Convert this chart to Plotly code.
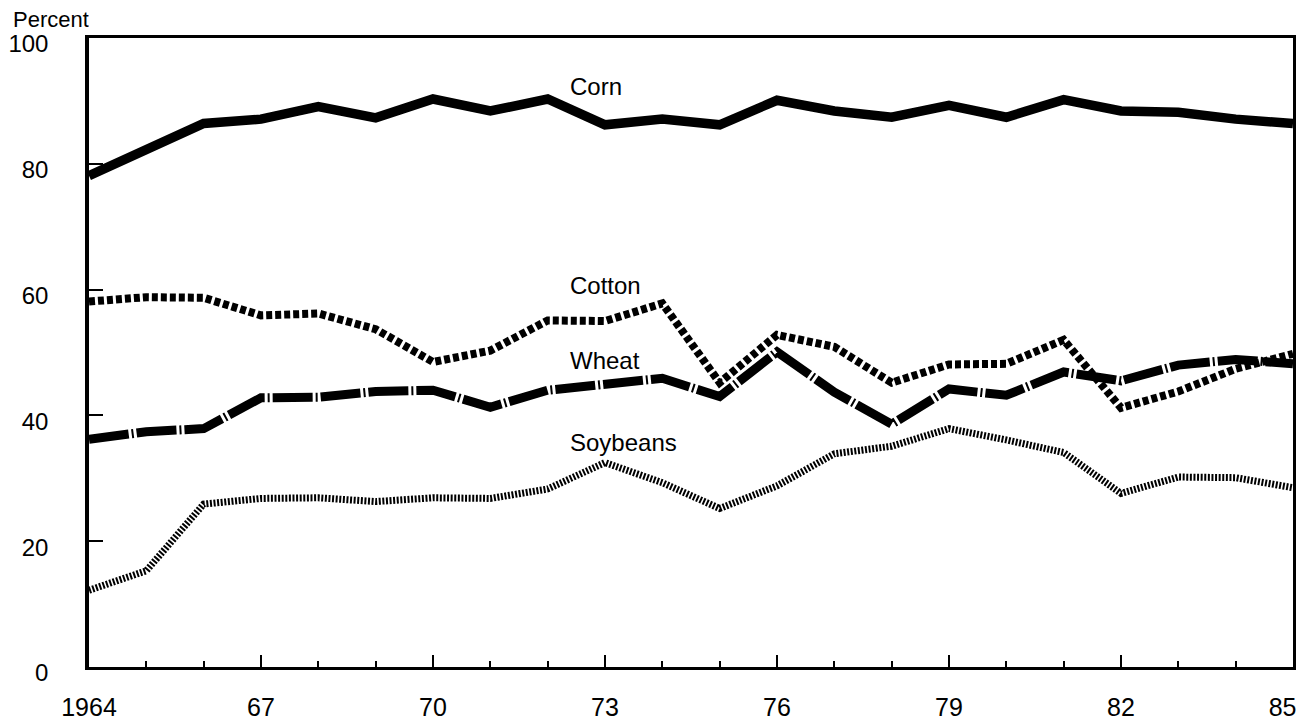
import plotly.graph_objects as go

# Share of acreage, percent
years = list(range(1964, 1986))
corn = [78.1, 82.3, 86.4, 87.1, 89.1, 87.3, 90.3, 88.4, 90.3, 86.2, 87.1,
        86.2, 90.1, 88.4, 87.4, 89.3, 87.4, 90.2, 88.4, 88.2, 87.1, 86.4]
cotton = [58.1, 58.8, 58.7, 55.9, 56.2, 53.7, 48.5, 50.3, 55.1, 55.0, 57.8,
          45.2, 52.8, 50.9, 45.2, 48.1, 48.2, 52.0, 41.2, 43.8, 47.4, 49.8]
wheat = [36.2, 37.4, 37.9, 42.8, 42.9, 43.8, 44.0, 41.3, 44.0, 45.1, 45.9,
         43.0, 50.1, 43.7, 38.6, 44.2, 43.2, 46.9, 45.5, 48.0, 48.9, 48.2]
soybeans = [12.2, 15.3, 25.9, 26.8, 26.9, 26.3, 26.9, 26.8, 28.3, 32.5, 29.3,
            25.2, 28.8, 33.9, 35.1, 37.9, 36.1, 34.1, 27.6, 30.2, 30.1, 28.5]

tick_years = [1964, 1967, 1970, 1973, 1976, 1979, 1982, 1985]
# last label padded so it sits just inside the right edge, as in the original
tick_labels = ["1964", "67", "70", "73", "76", "79", "82", "85\u00a0\u00a0\u00a0"]
y_ticks = [0, 20, 40, 60, 80, 100]

# label positions (year, percent) for the in-chart series names
labels = {"Corn": 92.3, "Cotton": 60.6, "Wheat": 48.8, "Soybeans": 35.7}
label_year = 1972.35

FONT = "Liberation Sans, Arial, sans-serif"

fig = go.Figure()
fig.add_trace(go.Scatter(x=years, y=soybeans, mode="lines",
                         line=dict(color="black", width=7, dash="2px,1.6px")))
fig.add_trace(go.Scatter(x=years, y=wheat, mode="lines",
                         line=dict(color="black", width=9, dash="40px,3px,2px,3px")))
fig.add_trace(go.Scatter(x=years, y=cotton, mode="lines",
                         line=dict(color="black", width=8, dash="6px,3px")))
fig.add_trace(go.Scatter(x=years, y=corn, mode="lines",
                         line=dict(color="black", width=9.5)))

for name, val in labels.items():
    fig.add_annotation(x=label_year, y=val, text=name, showarrow=False,
                       xanchor="left", yanchor="middle",
                       font=dict(family=FONT, size=24, color="black"))

fig.add_annotation(xref="paper", yref="paper", x=-0.065, y=1.031, text="Percent",
                   showarrow=False, xanchor="left", yanchor="middle", height=18,
                   font=dict(family=FONT, size=22, color="black"))

# the page body adds an 8px margin, so the figure is 8px smaller than the window
fig.update_layout(
    width=1296, height=712,
    margin=dict(l=81, r=11, t=30, b=53),
    paper_bgcolor="white", plot_bgcolor="white",
    showlegend=False,
    font=dict(family=FONT, color="black"),
)
fig.update_xaxes(
    range=[1964, 1985], tickvals=tick_years, ticktext=tick_labels,
    ticks="inside", ticklen=12, tickwidth=1.5, tickcolor="black",
    minor=dict(tick0=1964, dtick=1, ticks="inside", ticklen=6, tickwidth=1.5,
               tickcolor="black", showgrid=False),
    showline=True, linecolor="black", linewidth=3, mirror=True,
    showgrid=False, zeroline=False, automargin=False,
    tickfont=dict(family=FONT, size=25, color="black"),
    ticklabelstandoff=16, ticklabeloverflow="allow",
)
fig.update_yaxes(
    range=[0, 100], tickvals=y_ticks,
    ticks="inside", ticklen=14, tickwidth=1.5, tickcolor="black",
    showline=True, linecolor="black", linewidth=3.5, mirror=True,
    showgrid=False, zeroline=False, automargin=False,
    tickfont=dict(family=FONT, size=24, color="black"),
    ticklabelstandoff=32, ticklabelshift=6,
)

fig.write_html("out.html")
